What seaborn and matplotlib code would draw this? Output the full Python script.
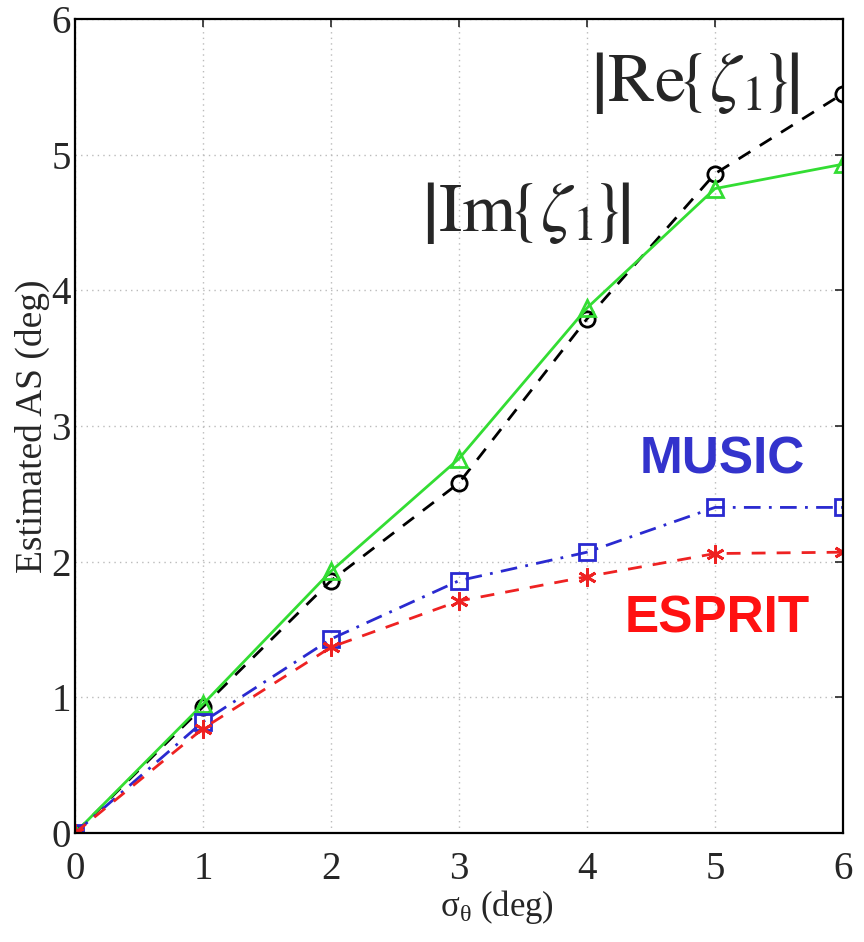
import matplotlib
matplotlib.use("Agg")
import matplotlib.pyplot as plt
import seaborn as sns
import pandas as pd

# Angular spread estimates versus true spread
sigma = [0, 1, 2, 3, 4, 5, 6]
re_zeta = [0.0, 0.93, 1.86, 2.58, 3.79, 4.86, 5.45]
im_zeta = [0.0, 0.95, 1.93, 2.76, 3.87, 4.75, 4.93]
music = [0.0, 0.82, 1.43, 1.86, 2.07, 2.40, 2.40]
esprit = [0.0, 0.77, 1.37, 1.71, 1.89, 2.06, 2.07]

x_ticks = [0, 1, 2, 3, 4, 5, 6]
y_ticks = [0, 1, 2, 3, 4, 5, 6]

sns.set_style("white")
plt.rcParams["font.family"] = ["Liberation Serif", "DejaVu Serif"]
plt.rcParams["mathtext.fontset"] = "stix"

fig = plt.figure(figsize=(8.64, 9.42), dpi=100)
ax = fig.add_axes([0.0868, 0.1157, 0.8889, 0.8641])

series = [
    (re_zeta, "black", (0, (5, 4)), "o", 11, dict(mfc="none")),
    (im_zeta, "#33dd33", "-", "^", 11, dict(mfc="none")),
    (music, "#2a2ad0", (0, (6, 3, 1, 3)), "s", 11, dict(mfc="none")),
    (esprit, "#ee2222", (0, (5, 4)), (6, 2, 0), 13, dict()),
]
for vals, color, ls, mk, ms, extra in series:
    df = pd.DataFrame({"sigma": sigma, "est": vals})
    sns.lineplot(data=df, x="sigma", y="est", ax=ax, color=color,
                 linestyle=ls, linewidth=2.0, marker=mk, markersize=ms,
                 markeredgecolor=color, markeredgewidth=2.0, **extra)

ax.set_xlim(0, 6)
ax.set_ylim(0, 6)
ax.set_xticks(x_ticks)
ax.set_yticks(y_ticks)
ax.set_xticklabels([str(v) for v in x_ticks])
ax.set_yticklabels([str(v) for v in y_ticks])
ax.grid(True, color="#bbbbbb", linestyle=(0, (1, 3)), linewidth=1.0)
ax.tick_params(direction="in", length=6, width=1.2, labelsize=28,
               top=True, right=True)
ax.tick_params(axis="x", pad=13)
ax.tick_params(axis="y", pad=3)
for s in ax.spines.values():
    s.set_color("black")
    s.set_linewidth(1.6)

ax.set_xlabel(r"$\mathregular{\sigma_\theta}$ (deg)", fontsize=25, labelpad=0)
ax.xaxis.set_label_coords(0.55, -0.068)
ax.set_ylabel("Estimated AS (deg)", fontsize=27, labelpad=0)
ax.yaxis.set_label_coords(-0.032, 0.5)

ax.text(4.84, 5.53, r"$\left|\mathrm{Re}\!\left\{\zeta_{1}\!\right\}\!\right|$",
        fontsize=50, ha="center", va="center")
ax.text(3.52, 4.57, r"$\left|\mathrm{Im}\!\left\{\zeta_{1}\!\right\}\!\right|$",
        fontsize=50, ha="center", va="center")
ax.text(5.06, 2.75, "MUSIC", fontsize=37, fontweight="bold", color="#3333cc",
        family="Liberation Sans", ha="center", va="center")
ax.text(5.02, 1.58, "ESPRIT", fontsize=37, fontweight="bold", color="#ff1111",
        family="Liberation Sans", ha="center", va="center")

fig.savefig("out.png", dpi=100)
